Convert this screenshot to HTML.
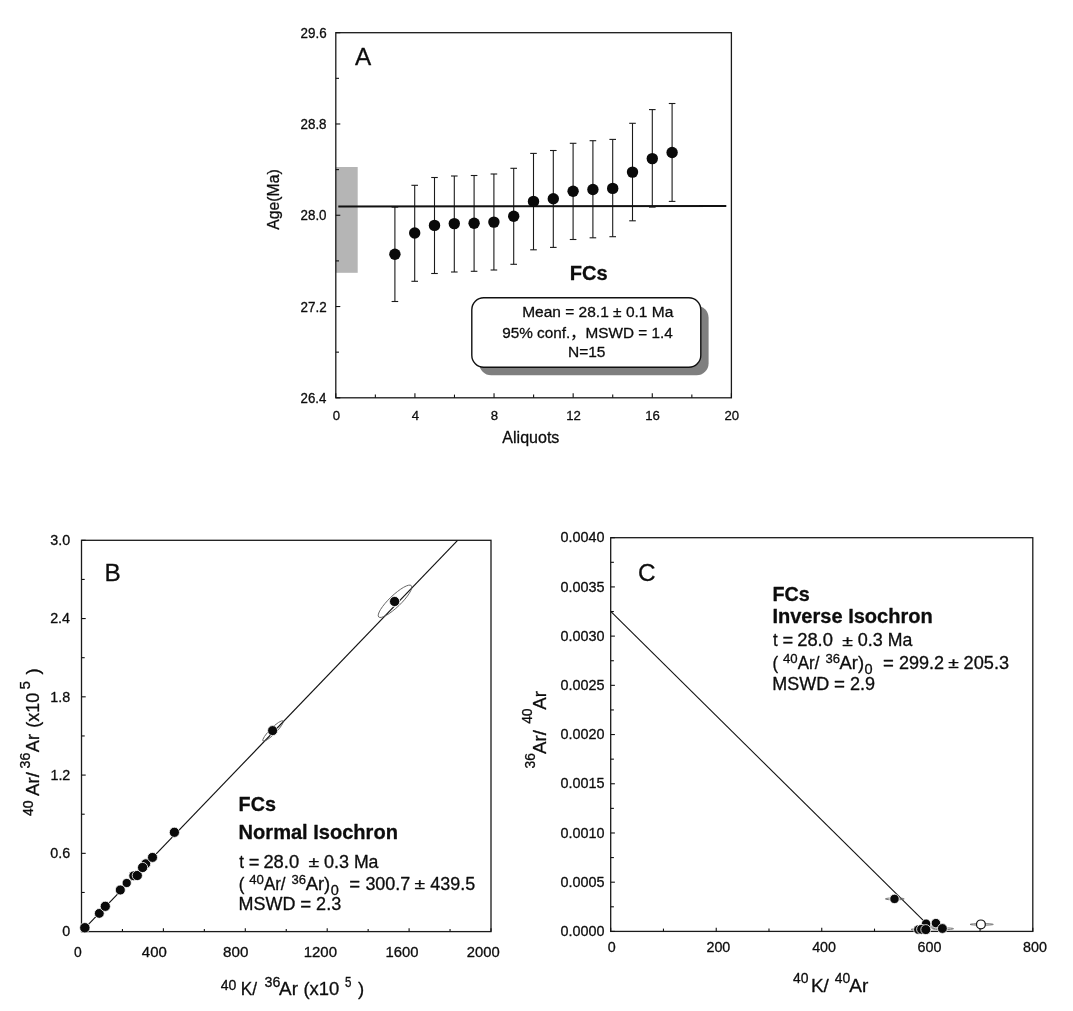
<!DOCTYPE html>
<html lang="en"><head><meta charset="utf-8"><title>FCs age plots</title>
<style>html,body{margin:0;padding:0;background:#fff}body{width:1073px;height:1011px;overflow:hidden}svg{display:block}text{stroke:#0d0d0d;stroke-width:.3px;stroke-linejoin:round}</style>
</head><body>
<svg width="1073" height="1011" viewBox="0 0 1073 1011" font-family="Liberation Sans, Arial, sans-serif" fill="#0d0d0d">
<rect width="1073" height="1011" fill="#fff"/>
<g id="plotA">
<rect x="335.8" y="167" width="21.90" height="105.80" fill="#b5b5b5"/>
<rect x="335.8" y="32.7" width="395.60" height="365.10" fill="none" stroke="#1a1a1a" stroke-width="1.3"/>
<line x1="335.80" y1="32.70" x2="340.30" y2="32.70" stroke="#111" stroke-width="1.1" />
<line x1="335.80" y1="78.34" x2="339.00" y2="78.34" stroke="#111" stroke-width="1.1" />
<line x1="335.80" y1="123.98" x2="340.30" y2="123.98" stroke="#111" stroke-width="1.1" />
<line x1="335.80" y1="169.61" x2="339.00" y2="169.61" stroke="#111" stroke-width="1.1" />
<line x1="335.80" y1="215.25" x2="340.30" y2="215.25" stroke="#111" stroke-width="1.1" />
<line x1="335.80" y1="260.89" x2="339.00" y2="260.89" stroke="#111" stroke-width="1.1" />
<line x1="335.80" y1="306.53" x2="340.30" y2="306.53" stroke="#111" stroke-width="1.1" />
<line x1="335.80" y1="352.16" x2="339.00" y2="352.16" stroke="#111" stroke-width="1.1" />
<line x1="335.80" y1="397.80" x2="340.30" y2="397.80" stroke="#111" stroke-width="1.1" />
<text transform="translate(300.53,37.80) scale(0.9575,1)" font-size="14.0" >29.6</text>
<text transform="translate(300.53,129.08) scale(0.9549,1)" font-size="14.0" >28.8</text>
<text transform="translate(300.53,220.35) scale(0.9549,1)" font-size="14.0" >28.0</text>
<text transform="translate(300.53,311.63) scale(0.9601,1)" font-size="14.0" >27.2</text>
<text transform="translate(300.54,402.90) scale(0.9498,1)" font-size="14.0" >26.4</text>
<line x1="335.80" y1="397.80" x2="335.80" y2="393.30" stroke="#111" stroke-width="1.1" />
<line x1="375.36" y1="397.80" x2="375.36" y2="394.60" stroke="#111" stroke-width="1.1" />
<line x1="414.92" y1="397.80" x2="414.92" y2="393.30" stroke="#111" stroke-width="1.1" />
<line x1="454.48" y1="397.80" x2="454.48" y2="394.60" stroke="#111" stroke-width="1.1" />
<line x1="494.04" y1="397.80" x2="494.04" y2="393.30" stroke="#111" stroke-width="1.1" />
<line x1="533.60" y1="397.80" x2="533.60" y2="394.60" stroke="#111" stroke-width="1.1" />
<line x1="573.16" y1="397.80" x2="573.16" y2="393.30" stroke="#111" stroke-width="1.1" />
<line x1="612.72" y1="397.80" x2="612.72" y2="394.60" stroke="#111" stroke-width="1.1" />
<line x1="652.28" y1="397.80" x2="652.28" y2="393.30" stroke="#111" stroke-width="1.1" />
<line x1="691.84" y1="397.80" x2="691.84" y2="394.60" stroke="#111" stroke-width="1.1" />
<line x1="731.40" y1="397.80" x2="731.40" y2="393.30" stroke="#111" stroke-width="1.1" />
<text transform="translate(332.64,419.80) scale(0.9700,1)" font-size="13.6" >0</text>
<text transform="translate(411.79,419.80) scale(0.9700,1)" font-size="13.6" >4</text>
<text transform="translate(490.85,419.80) scale(0.9700,1)" font-size="13.6" >8</text>
<text transform="translate(566.17,419.80) scale(0.9700,1)" font-size="13.6" >12</text>
<text transform="translate(645.26,419.80) scale(0.9700,1)" font-size="13.6" >16</text>
<text transform="translate(724.51,419.80) scale(0.9700,1)" font-size="13.6" >20</text>
<text transform="translate(502.32,443.10) scale(0.9332,1)" font-size="17.2" >Aliquots</text>
<text transform="translate(279.00,229.68) rotate(-90) scale(0.9844,1)" font-size="16.0" >Age(Ma)</text>
<text x="354.88" y="65.00" font-size="24.3" >A</text>
<line x1="394.90" y1="207.10" x2="394.90" y2="301.50" stroke="#1a1a1a" stroke-width="1.1" />
<line x1="391.60" y1="207.10" x2="398.20" y2="207.10" stroke="#1a1a1a" stroke-width="1.1" />
<line x1="391.60" y1="301.50" x2="398.20" y2="301.50" stroke="#1a1a1a" stroke-width="1.1" />
<line x1="414.70" y1="185.30" x2="414.70" y2="281.30" stroke="#1a1a1a" stroke-width="1.1" />
<line x1="411.40" y1="185.30" x2="418.00" y2="185.30" stroke="#1a1a1a" stroke-width="1.1" />
<line x1="411.40" y1="281.30" x2="418.00" y2="281.30" stroke="#1a1a1a" stroke-width="1.1" />
<line x1="434.50" y1="177.50" x2="434.50" y2="273.50" stroke="#1a1a1a" stroke-width="1.1" />
<line x1="431.20" y1="177.50" x2="437.80" y2="177.50" stroke="#1a1a1a" stroke-width="1.1" />
<line x1="431.20" y1="273.50" x2="437.80" y2="273.50" stroke="#1a1a1a" stroke-width="1.1" />
<line x1="454.30" y1="176.00" x2="454.30" y2="272.00" stroke="#1a1a1a" stroke-width="1.1" />
<line x1="451.00" y1="176.00" x2="457.60" y2="176.00" stroke="#1a1a1a" stroke-width="1.1" />
<line x1="451.00" y1="272.00" x2="457.60" y2="272.00" stroke="#1a1a1a" stroke-width="1.1" />
<line x1="474.10" y1="175.50" x2="474.10" y2="271.30" stroke="#1a1a1a" stroke-width="1.1" />
<line x1="470.80" y1="175.50" x2="477.40" y2="175.50" stroke="#1a1a1a" stroke-width="1.1" />
<line x1="470.80" y1="271.30" x2="477.40" y2="271.30" stroke="#1a1a1a" stroke-width="1.1" />
<line x1="493.90" y1="174.00" x2="493.90" y2="270.00" stroke="#1a1a1a" stroke-width="1.1" />
<line x1="490.60" y1="174.00" x2="497.20" y2="174.00" stroke="#1a1a1a" stroke-width="1.1" />
<line x1="490.60" y1="270.00" x2="497.20" y2="270.00" stroke="#1a1a1a" stroke-width="1.1" />
<line x1="513.70" y1="168.30" x2="513.70" y2="264.30" stroke="#1a1a1a" stroke-width="1.1" />
<line x1="510.40" y1="168.30" x2="517.00" y2="168.30" stroke="#1a1a1a" stroke-width="1.1" />
<line x1="510.40" y1="264.30" x2="517.00" y2="264.30" stroke="#1a1a1a" stroke-width="1.1" />
<line x1="533.50" y1="153.40" x2="533.50" y2="249.80" stroke="#1a1a1a" stroke-width="1.1" />
<line x1="530.20" y1="153.40" x2="536.80" y2="153.40" stroke="#1a1a1a" stroke-width="1.1" />
<line x1="530.20" y1="249.80" x2="536.80" y2="249.80" stroke="#1a1a1a" stroke-width="1.1" />
<line x1="553.30" y1="150.50" x2="553.30" y2="247.40" stroke="#1a1a1a" stroke-width="1.1" />
<line x1="550.00" y1="150.50" x2="556.60" y2="150.50" stroke="#1a1a1a" stroke-width="1.1" />
<line x1="550.00" y1="247.40" x2="556.60" y2="247.40" stroke="#1a1a1a" stroke-width="1.1" />
<line x1="573.10" y1="143.30" x2="573.10" y2="239.50" stroke="#1a1a1a" stroke-width="1.1" />
<line x1="569.80" y1="143.30" x2="576.40" y2="143.30" stroke="#1a1a1a" stroke-width="1.1" />
<line x1="569.80" y1="239.50" x2="576.40" y2="239.50" stroke="#1a1a1a" stroke-width="1.1" />
<line x1="592.90" y1="140.70" x2="592.90" y2="237.80" stroke="#1a1a1a" stroke-width="1.1" />
<line x1="589.60" y1="140.70" x2="596.20" y2="140.70" stroke="#1a1a1a" stroke-width="1.1" />
<line x1="589.60" y1="237.80" x2="596.20" y2="237.80" stroke="#1a1a1a" stroke-width="1.1" />
<line x1="612.70" y1="139.40" x2="612.70" y2="236.70" stroke="#1a1a1a" stroke-width="1.1" />
<line x1="609.40" y1="139.40" x2="616.00" y2="139.40" stroke="#1a1a1a" stroke-width="1.1" />
<line x1="609.40" y1="236.70" x2="616.00" y2="236.70" stroke="#1a1a1a" stroke-width="1.1" />
<line x1="632.50" y1="123.30" x2="632.50" y2="220.80" stroke="#1a1a1a" stroke-width="1.1" />
<line x1="629.20" y1="123.30" x2="635.80" y2="123.30" stroke="#1a1a1a" stroke-width="1.1" />
<line x1="629.20" y1="220.80" x2="635.80" y2="220.80" stroke="#1a1a1a" stroke-width="1.1" />
<line x1="652.30" y1="109.60" x2="652.30" y2="207.10" stroke="#1a1a1a" stroke-width="1.1" />
<line x1="649.00" y1="109.60" x2="655.60" y2="109.60" stroke="#1a1a1a" stroke-width="1.1" />
<line x1="649.00" y1="207.10" x2="655.60" y2="207.10" stroke="#1a1a1a" stroke-width="1.1" />
<line x1="672.10" y1="103.50" x2="672.10" y2="201.40" stroke="#1a1a1a" stroke-width="1.1" />
<line x1="668.80" y1="103.50" x2="675.40" y2="103.50" stroke="#1a1a1a" stroke-width="1.1" />
<line x1="668.80" y1="201.40" x2="675.40" y2="201.40" stroke="#1a1a1a" stroke-width="1.1" />
<line x1="338.30" y1="206.40" x2="726.30" y2="205.90" stroke="#111" stroke-width="2" />
<circle cx="394.90" cy="254.30" r="5.7" fill="#0a0a0a"/>
<circle cx="414.70" cy="233.00" r="5.7" fill="#0a0a0a"/>
<circle cx="434.50" cy="225.40" r="5.7" fill="#0a0a0a"/>
<circle cx="454.30" cy="223.60" r="5.7" fill="#0a0a0a"/>
<circle cx="474.10" cy="223.20" r="5.7" fill="#0a0a0a"/>
<circle cx="493.90" cy="222.10" r="5.7" fill="#0a0a0a"/>
<circle cx="513.70" cy="216.20" r="5.7" fill="#0a0a0a"/>
<circle cx="533.50" cy="201.40" r="5.7" fill="#0a0a0a"/>
<circle cx="553.30" cy="198.80" r="5.7" fill="#0a0a0a"/>
<circle cx="573.10" cy="191.20" r="5.7" fill="#0a0a0a"/>
<circle cx="592.90" cy="189.50" r="5.7" fill="#0a0a0a"/>
<circle cx="612.70" cy="188.40" r="5.7" fill="#0a0a0a"/>
<circle cx="632.50" cy="172.10" r="5.7" fill="#0a0a0a"/>
<circle cx="652.30" cy="158.60" r="5.7" fill="#0a0a0a"/>
<circle cx="672.10" cy="152.50" r="5.7" fill="#0a0a0a"/>
<text transform="translate(569.79,280.00) scale(0.9811,1)" font-size="20.5" font-weight="bold" >FCs</text>
<rect x="479.2" y="305.7" width="229.4" height="69.5" rx="12" ry="12" fill="#7f7f7f"/>
<rect x="471.8" y="297.7" width="229.0" height="69.5" rx="12" ry="12" fill="#fff" stroke="#111" stroke-width="1.4"/>
<text x="522.2" y="316.5" font-size="15.5">Mean = 28.1 ± 0.1 Ma</text>
<text transform="translate(502.2,338.1) scale(0.988,1)" font-size="15.5" font-family="Liberation Sans, Noto Sans CJK SC, sans-serif">95% conf.，MSWD = 1.4</text>
<text x="568" y="357" font-size="15.5">N=15</text>
</g>
<g id="plotB">
<rect x="81.5" y="540.3" width="409.50" height="391.30" fill="none" stroke="#1a1a1a" stroke-width="1.3"/>
<line x1="81.50" y1="540.30" x2="85.70" y2="540.30" stroke="#111" stroke-width="1.1" />
<line x1="81.50" y1="579.43" x2="84.70" y2="579.43" stroke="#111" stroke-width="1.1" />
<line x1="81.50" y1="618.56" x2="85.70" y2="618.56" stroke="#111" stroke-width="1.1" />
<line x1="81.50" y1="657.69" x2="84.70" y2="657.69" stroke="#111" stroke-width="1.1" />
<line x1="81.50" y1="696.82" x2="85.70" y2="696.82" stroke="#111" stroke-width="1.1" />
<line x1="81.50" y1="735.95" x2="84.70" y2="735.95" stroke="#111" stroke-width="1.1" />
<line x1="81.50" y1="775.08" x2="85.70" y2="775.08" stroke="#111" stroke-width="1.1" />
<line x1="81.50" y1="814.21" x2="84.70" y2="814.21" stroke="#111" stroke-width="1.1" />
<line x1="81.50" y1="853.34" x2="85.70" y2="853.34" stroke="#111" stroke-width="1.1" />
<line x1="81.50" y1="892.47" x2="84.70" y2="892.47" stroke="#111" stroke-width="1.1" />
<line x1="81.50" y1="931.60" x2="85.70" y2="931.60" stroke="#111" stroke-width="1.1" />
<text x="50.29" y="545.10" font-size="14.3" >3.0</text>
<text x="50.15" y="623.36" font-size="14.3" >2.4</text>
<text x="50.29" y="701.62" font-size="14.3" >1.8</text>
<text x="50.44" y="779.88" font-size="14.3" >1.2</text>
<text x="50.37" y="858.14" font-size="14.3" >0.6</text>
<text x="62.24" y="936.40" font-size="14.3" >0</text>
<line x1="81.50" y1="931.60" x2="81.50" y2="928.30" stroke="#111" stroke-width="1.1" />
<line x1="122.45" y1="931.60" x2="122.45" y2="929.00" stroke="#111" stroke-width="1.1" />
<line x1="163.40" y1="931.60" x2="163.40" y2="928.30" stroke="#111" stroke-width="1.1" />
<line x1="204.35" y1="931.60" x2="204.35" y2="929.00" stroke="#111" stroke-width="1.1" />
<line x1="245.30" y1="931.60" x2="245.30" y2="928.30" stroke="#111" stroke-width="1.1" />
<line x1="286.25" y1="931.60" x2="286.25" y2="929.00" stroke="#111" stroke-width="1.1" />
<line x1="327.20" y1="931.60" x2="327.20" y2="928.30" stroke="#111" stroke-width="1.1" />
<line x1="368.15" y1="931.60" x2="368.15" y2="929.00" stroke="#111" stroke-width="1.1" />
<line x1="409.10" y1="931.60" x2="409.10" y2="928.30" stroke="#111" stroke-width="1.1" />
<line x1="450.05" y1="931.60" x2="450.05" y2="929.00" stroke="#111" stroke-width="1.1" />
<line x1="491.00" y1="931.60" x2="491.00" y2="928.30" stroke="#111" stroke-width="1.1" />
<text transform="translate(73.94,956.60) scale(0.9717,1)" font-size="14.3" >0</text>
<text transform="translate(141.83,956.60) scale(1.0446,1)" font-size="14.3" >400</text>
<text transform="translate(223.12,956.60) scale(1.0622,1)" font-size="14.3" >800</text>
<text transform="translate(303.68,956.60) scale(1.0473,1)" font-size="14.3" >1200</text>
<text transform="translate(385.59,956.60) scale(1.0374,1)" font-size="14.3" >1600</text>
<text transform="translate(466.76,956.60) scale(1.0350,1)" font-size="14.3" >2000</text>
<line x1="81.50" y1="931.60" x2="457.60" y2="540.30" stroke="#111" stroke-width="1.15" />
<ellipse cx="395" cy="601.3" rx="22.6" ry="5.8" transform="rotate(-43.8 395 601.3)" fill="none" stroke="#555" stroke-width="0.85"/>
<ellipse cx="273" cy="731" rx="14.2" ry="3.0" transform="rotate(-45 273 731)" fill="none" stroke="#555" stroke-width="0.85"/>
<circle cx="84.85" cy="927.75" r="5.2" fill="#0a0a0a" stroke="#fff" stroke-width="0.8"/>
<circle cx="99.3" cy="913.4" r="4.9" fill="#0a0a0a" stroke="#fff" stroke-width="0.8"/>
<circle cx="105.3" cy="906.3" r="5.1000000000000005" fill="#0a0a0a" stroke="#fff" stroke-width="0.8"/>
<circle cx="120.3" cy="890" r="5.0" fill="#0a0a0a" stroke="#fff" stroke-width="0.8"/>
<circle cx="126.7" cy="883" r="4.6000000000000005" fill="#0a0a0a" stroke="#fff" stroke-width="0.8"/>
<circle cx="133.7" cy="875.8" r="4.9" fill="#0a0a0a" stroke="#fff" stroke-width="0.8"/>
<circle cx="137.3" cy="875.5" r="5.1000000000000005" fill="#0a0a0a" stroke="#fff" stroke-width="0.8"/>
<circle cx="145.8" cy="863.7" r="4.9" fill="#0a0a0a" stroke="#fff" stroke-width="0.8"/>
<circle cx="142.6" cy="867.5" r="5.1000000000000005" fill="#0a0a0a" stroke="#fff" stroke-width="0.8"/>
<circle cx="152.5" cy="857.4" r="5.0" fill="#0a0a0a" stroke="#fff" stroke-width="0.8"/>
<circle cx="174.4" cy="832.3" r="5.1000000000000005" fill="#0a0a0a" stroke="#fff" stroke-width="0.8"/>
<circle cx="272.6" cy="730.6" r="5.0" fill="#0a0a0a" stroke="#fff" stroke-width="0.8"/>
<circle cx="394.6" cy="601.5" r="5.1000000000000005" fill="#0a0a0a" stroke="#fff" stroke-width="0.8"/>
<text x="104.56" y="581.00" font-size="24.3" >B</text>
<text transform="translate(238.61,811.40) scale(0.9888,1)" font-size="20" font-weight="bold" >FCs</text>
<text transform="translate(238.60,838.70) scale(1.0032,1)" font-size="20" font-weight="bold" >Normal Isochron</text>
<text transform="translate(239.15,867.60) scale(0.9636,1)" font-size="17.5" >t</text>
<text transform="translate(248.68,867.60) scale(1.0486,1)" font-size="17.5" >=</text>
<text transform="translate(263.38,867.60) scale(1.0504,1)" font-size="17.5" >28.0</text>
<text transform="translate(308.52,867.00) scale(1.2508,1)" font-size="15.5" >±</text>
<text transform="translate(323.88,867.60) scale(1.0290,1)" font-size="17.5" >0.3</text>
<text transform="translate(353.88,867.60) scale(1.0120,1)" font-size="17.5" >Ma</text>
<text transform="translate(238.78,889.70) scale(0.9704,1)" font-size="17.5" >(</text>
<text transform="translate(249.17,883.90) scale(0.9782,1)" font-size="13.5" >40</text>
<text transform="translate(263.92,889.70) scale(0.9674,1)" font-size="17.5" >Ar/</text>
<text transform="translate(291.58,883.90) scale(0.9684,1)" font-size="13.5" >36</text>
<text transform="translate(305.71,889.70) scale(1.0525,1)" font-size="17.5" >Ar)</text>
<text transform="translate(330.72,894.60) scale(1.0230,1)" font-size="14.2" >0</text>
<text transform="translate(349.27,889.70) scale(1.0604,1)" font-size="17.5" >=</text>
<text transform="translate(365.38,889.70) scale(1.0267,1)" font-size="17.5" >300.7</text>
<text transform="translate(414.42,889.10) scale(1.2377,1)" font-size="15.5" >±</text>
<text transform="translate(430.25,889.70) scale(1.0255,1)" font-size="17.5" >439.5</text>
<text transform="translate(238.56,910.20) scale(1.0263,1)" font-size="17.5" >MSWD</text>
<text transform="translate(300.26,910.20) scale(1.0722,1)" font-size="17.5" >=</text>
<text transform="translate(316.10,910.20) scale(1.0325,1)" font-size="17.5" >2.3</text>
<text transform="translate(32.50,816.00) rotate(-90)" font-size="14">40</text>
<text transform="translate(39.40,796.00) rotate(-90)" font-size="18.7">Ar/</text>
<text transform="translate(30.30,768.40) rotate(-90)" font-size="14">36</text>
<text transform="translate(39.40,752.20) rotate(-90)" font-size="18.2">Ar</text>
<text transform="translate(39.40,727.70) rotate(-90)" font-size="18">(x10</text>
<text transform="translate(30.20,689.60) rotate(-90)" font-size="15.3">5</text>
<text transform="translate(39.40,674.50) rotate(-90)" font-size="18.5">)</text>
<text transform="translate(220.75,989.90) scale(1.0048,1)" font-size="14" >40</text>
<text transform="translate(240.82,995.40) scale(0.9302,1)" font-size="18.5" >K/</text>
<text transform="translate(264.53,986.70) scale(1.0174,1)" font-size="14" >36</text>
<text transform="translate(279.11,995.40) scale(1.0201,1)" font-size="18.5" >Ar</text>
<text transform="translate(303.49,995.40) scale(0.9961,1)" font-size="18.5" >(x10</text>
<text transform="translate(345.04,987.20) scale(0.8271,1)" font-size="14" >5</text>
<text transform="translate(357.92,995.40) scale(0.9979,1)" font-size="18.5" >)</text>
</g>
<g id="plotC">
<rect x="610.7" y="537.7" width="422.10" height="393.70" fill="none" stroke="#1a1a1a" stroke-width="1.3"/>
<line x1="610.70" y1="537.70" x2="614.90" y2="537.70" stroke="#111" stroke-width="1.1" />
<line x1="610.70" y1="562.31" x2="613.90" y2="562.31" stroke="#111" stroke-width="1.1" />
<line x1="610.70" y1="586.91" x2="614.90" y2="586.91" stroke="#111" stroke-width="1.1" />
<line x1="610.70" y1="611.52" x2="613.90" y2="611.52" stroke="#111" stroke-width="1.1" />
<line x1="610.70" y1="636.12" x2="614.90" y2="636.12" stroke="#111" stroke-width="1.1" />
<line x1="610.70" y1="660.73" x2="613.90" y2="660.73" stroke="#111" stroke-width="1.1" />
<line x1="610.70" y1="685.34" x2="614.90" y2="685.34" stroke="#111" stroke-width="1.1" />
<line x1="610.70" y1="709.94" x2="613.90" y2="709.94" stroke="#111" stroke-width="1.1" />
<line x1="610.70" y1="734.55" x2="614.90" y2="734.55" stroke="#111" stroke-width="1.1" />
<line x1="610.70" y1="759.16" x2="613.90" y2="759.16" stroke="#111" stroke-width="1.1" />
<line x1="610.70" y1="783.76" x2="614.90" y2="783.76" stroke="#111" stroke-width="1.1" />
<line x1="610.70" y1="808.37" x2="613.90" y2="808.37" stroke="#111" stroke-width="1.1" />
<line x1="610.70" y1="832.98" x2="614.90" y2="832.98" stroke="#111" stroke-width="1.1" />
<line x1="610.70" y1="857.58" x2="613.90" y2="857.58" stroke="#111" stroke-width="1.1" />
<line x1="610.70" y1="882.19" x2="614.90" y2="882.19" stroke="#111" stroke-width="1.1" />
<line x1="610.70" y1="906.79" x2="613.90" y2="906.79" stroke="#111" stroke-width="1.1" />
<line x1="610.70" y1="931.40" x2="614.90" y2="931.40" stroke="#111" stroke-width="1.1" />
<text x="560.51" y="542.40" font-size="14.4" >0.0040</text>
<text x="560.51" y="591.61" font-size="14.4" >0.0035</text>
<text x="560.51" y="640.83" font-size="14.4" >0.0030</text>
<text x="560.51" y="690.04" font-size="14.4" >0.0025</text>
<text x="560.51" y="739.25" font-size="14.4" >0.0020</text>
<text x="560.51" y="788.46" font-size="14.4" >0.0015</text>
<text x="560.51" y="837.68" font-size="14.4" >0.0010</text>
<text x="560.51" y="886.89" font-size="14.4" >0.0005</text>
<text x="560.51" y="936.10" font-size="14.4" >0.0000</text>
<line x1="610.70" y1="931.40" x2="610.70" y2="927.80" stroke="#111" stroke-width="1.1" />
<line x1="663.46" y1="931.40" x2="663.46" y2="928.60" stroke="#111" stroke-width="1.1" />
<line x1="716.23" y1="931.40" x2="716.23" y2="927.80" stroke="#111" stroke-width="1.1" />
<line x1="768.99" y1="931.40" x2="768.99" y2="928.60" stroke="#111" stroke-width="1.1" />
<line x1="821.75" y1="931.40" x2="821.75" y2="927.80" stroke="#111" stroke-width="1.1" />
<line x1="874.51" y1="931.40" x2="874.51" y2="928.60" stroke="#111" stroke-width="1.1" />
<line x1="927.27" y1="931.40" x2="927.27" y2="927.80" stroke="#111" stroke-width="1.1" />
<line x1="980.04" y1="931.40" x2="980.04" y2="928.60" stroke="#111" stroke-width="1.1" />
<line x1="1032.80" y1="931.40" x2="1032.80" y2="927.80" stroke="#111" stroke-width="1.1" />
<text x="607.83" y="952.30" font-size="14.3" >0</text>
<text x="706.45" y="952.30" font-size="14.3" >200</text>
<text x="812.15" y="952.30" font-size="14.3" >400</text>
<text x="917.50" y="952.30" font-size="14.3" >600</text>
<text x="1023.06" y="952.30" font-size="14.3" >800</text>
<line x1="610.70" y1="611.40" x2="923.50" y2="920.70" stroke="#111" stroke-width="1.1" />
<ellipse cx="894.8" cy="898.9" rx="9.4" ry="1.0" fill="none" stroke="#6a6a6a" stroke-width="0.9"/>
<ellipse cx="981.7" cy="924.4" rx="11.6" ry="0.8" fill="none" stroke="#6a6a6a" stroke-width="0.9"/>
<ellipse cx="921" cy="929.5" rx="10" ry="0.9" fill="none" stroke="#6a6a6a" stroke-width="0.9"/>
<ellipse cx="943" cy="928.7" rx="10.5" ry="0.9" fill="none" stroke="#6a6a6a" stroke-width="0.9"/>
<ellipse cx="930" cy="927" rx="12" ry="0.9" fill="none" stroke="#6a6a6a" stroke-width="0.9"/>
<circle cx="894.5" cy="898.9" r="4.7" fill="#0a0a0a" stroke="#fff" stroke-width="0.8"/>
<circle cx="926.1" cy="923.7" r="4.7" fill="#0a0a0a" stroke="#fff" stroke-width="0.8"/>
<circle cx="935.9" cy="923.1" r="4.7" fill="#0a0a0a" stroke="#fff" stroke-width="0.8"/>
<circle cx="918.3" cy="929.6" r="4.7" fill="#0a0a0a" stroke="#fff" stroke-width="0.8"/>
<circle cx="921.5" cy="929.3" r="4.9" fill="#0a0a0a" stroke="#fff" stroke-width="0.8"/>
<circle cx="942.4" cy="928.5" r="4.9" fill="#0a0a0a" stroke="#fff" stroke-width="0.8"/>
<circle cx="925.8" cy="929.6" r="5.0" fill="#0a0a0a" stroke="#fff" stroke-width="0.8"/>
<circle cx="980.9" cy="924.4" r="4.4" fill="#fff" stroke="#111" stroke-width="1.2"/>
<text x="637.99" y="580.80" font-size="24.3" >C</text>
<text transform="translate(772.41,601.30) scale(0.9888,1)" font-size="20" font-weight="bold" >FCs</text>
<text transform="translate(772.40,622.80) scale(1.0025,1)" font-size="20" font-weight="bold" >Inverse Isochron</text>
<text transform="translate(772.95,646.40) scale(0.9636,1)" font-size="17.5" >t</text>
<text transform="translate(782.48,646.40) scale(1.0486,1)" font-size="17.5" >=</text>
<text transform="translate(797.18,646.40) scale(1.0504,1)" font-size="17.5" >28.0</text>
<text transform="translate(842.32,645.80) scale(1.2508,1)" font-size="15.5" >±</text>
<text transform="translate(857.68,646.40) scale(1.0290,1)" font-size="17.5" >0.3</text>
<text transform="translate(887.68,646.40) scale(1.0120,1)" font-size="17.5" >Ma</text>
<text transform="translate(772.58,668.60) scale(0.9704,1)" font-size="17.5" >(</text>
<text transform="translate(782.97,662.80) scale(0.9782,1)" font-size="13.5" >40</text>
<text transform="translate(797.72,668.60) scale(0.9674,1)" font-size="17.5" >Ar/</text>
<text transform="translate(825.38,662.80) scale(0.9684,1)" font-size="13.5" >36</text>
<text transform="translate(839.51,668.60) scale(1.0525,1)" font-size="17.5" >Ar)</text>
<text transform="translate(864.52,673.50) scale(1.0230,1)" font-size="14.2" >0</text>
<text transform="translate(883.07,668.60) scale(1.0604,1)" font-size="17.5" >=</text>
<text transform="translate(899.00,668.60) scale(1.0310,1)" font-size="17.5" >299.2</text>
<text transform="translate(948.22,668.00) scale(1.2377,1)" font-size="15.5" >±</text>
<text transform="translate(963.59,668.60) scale(1.0383,1)" font-size="17.5" >205.3</text>
<text transform="translate(772.36,689.70) scale(1.0263,1)" font-size="17.5" >MSWD</text>
<text transform="translate(834.06,689.70) scale(1.0722,1)" font-size="17.5" >=</text>
<text transform="translate(849.90,689.70) scale(1.0325,1)" font-size="17.5" >2.9</text>
<text transform="translate(534.90,768.50) rotate(-90)" font-size="13.8">36</text>
<text transform="translate(546.10,754.00) rotate(-90)" font-size="18.7">Ar/</text>
<text transform="translate(532.40,723.80) rotate(-90)" font-size="13.8">40</text>
<text transform="translate(546.10,709.80) rotate(-90)" font-size="18.7">Ar</text>
<text x="793.10" y="982.80" font-size="13.9">40</text>
<text x="810.90" y="992.00" font-size="19">K/</text>
<text x="834.80" y="982.80" font-size="13.9">40</text>
<text x="849.30" y="992.00" font-size="19">Ar</text>
</g>
</svg>
</body></html>
